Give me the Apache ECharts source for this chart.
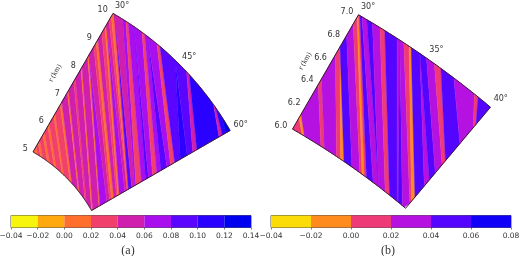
<!DOCTYPE html>
<html><head><meta charset="utf-8">
<style>html,body{margin:0;padding:0;background:#fff}#c{width:520px;height:256px}</style>
<script src="https://cdn.jsdelivr.net/npm/echarts@6/dist/echarts.min.js"></script>
</head><body><div id="c"></div>
<script>
// Panel (a): r 5–10 km, angle 30–60°. Panel (b): r 6–7 km, angle 30–40°.
const rangeA = [5, 10, 30, 60];
const rangeB = [6, 7, 30, 40];
// Bands between successive cuts. "top" runs along the 30° edge (r) then along the outer arc (r max + degrees past 30).
// "bot" runs along the inner arc (degrees) then along the far edge (angle max + km past r min).
const topA = [5,5.2,5.32,5.42,5.62,5.72,5.93,6.02,6.3,6.38,6.7,6.8,7.15,7.22,7.55,7.65,8,8.06,8.42,8.5,8.5,8.8,8.95,9.06,9.3,9.5,9.6,9.6,9.75,9.9,10.05,10.35,10.35,12,12.7,13.2,14.5,14.5,16.2,16.8,17.5,17.5,19.6,20.3,24,24,26.9,27.6,34.5,35.2,37,40];
const botA = [30,32,33.2,34.2,36.2,37.2,39.3,40.2,43,43.8,47,48,51.5,52.2,55.5,56.5,60,60.04,60.27,60.3,60.55,60.65,60.72,60.8,60.9,60.95,61,61.2,61.28,61.3,61.31,61.33,61.45,61.55,61.6,61.8,61.95,62.05,62.2,62.35,62.5,62.72,62.85,63,63.2,63.45,63.65,63.8,64.6,64.72,64.85,65];
const valA = [.01,.03,.01,.03,.01,.03,.01,.03,.01,.03,.01,.05,.01,.05,.03,.05,.01,.05,.01,.07,.05,.03,.01,.05,.03,.01,.07,.05,.03,.01,.03,.09,.05,.07,.03,.07,.09,.07,.03,.07,.09,.07,.03,.09,.11,.09,.05,.11,.05,.11,.13];
const topB = [6,6.1,6.13,6.39,6.44,6.65,6.72,6.72,6.82,6.92,6.98,7,7.1,7.25,7.6,8,8.55,8.9,9.8,10,10,10.3,10.7,10.85,11.5,11.5,12,12.6,13.1,14.1,15.7,16,17];
const botB = [30,30.8,31,32.4,32.7,33.75,34.1,34.4,35.1,35.8,36,36.2,36.4,37,37.5,37.5,38.1,38.5,39.2,39.3,39.7,40.05,40.07,40.11,40.22,40.28,40.35,40.43,40.47,40.64,40.8,40.83,41];
const valB = [.01,-.01,.03,.01,.03,.01,-.01,.05,.03,.01,-.01,.01,.05,.03,.05,.03,.01,.05,.03,.05,.03,.01,-.01,.05,.03,.05,.03,.01,.05,.03,.01,.05];
// Colour bar levels and colours
const levelsA = [-.04,-.02,0,.02,.04,.06,.08,.10,.12,.14];
const levelsB = [-.04,-.02,0,.02,.04,.06,.08];
const coloursA = ['#f7f50e','#ffa90f','#ff6e2d','#f2406c','#d01fae','#a90fee','#5a05ff','#2a00ff','#0000f0'];
const coloursB = ['#fcdc08','#ff8a1e','#ef3a78','#b512e2','#5405ff','#1000f8'];

const FONT = '"DejaVu Sans"', TXT = '#333', EDGE = '#3a1530';
function pickers(range){
  const [r0,r1,a0,a1] = range;
  return {
    top: s => s <= r1 ? [s,a0] : [r1,a0+(s-r1)],
    bot: t => t <= a1 ? [r0,t] : [r0+(t-a1),a1]
  };
}
function walk(fn, from, to, api, out){
  const n = Math.max(1, Math.ceil(Math.abs(to-from)*4));
  for(let i=0;i<=n;i++) out.push(api.coord(fn(from+(to-from)*i/n)));
}
function colourOf(v, levels, colours){
  let i = Math.floor((v-levels[0])/(levels[1]-levels[0])+1e-6);
  return colours[Math.max(0,Math.min(colours.length-1,i))];
}
function bandSeries(idx, range, top, bot, val, levels, colours){
  const p = pickers(range);
  const data = val.map((v,i)=>[v, top[i], bot[i], top[i+1], bot[i+1]]);
  return {type:'custom',coordinateSystem:'polar',polarIndex:idx,silent:true,z:2,clip:false,
    encode:{radius:1,angle:2},data,
    renderItem(_, api){
      const pts=[];
      walk(p.top, api.value(1), api.value(3), api, pts);
      walk(p.bot, api.value(4), api.value(2), api, pts);
      const c=colourOf(api.value(0),levels,colours);
      return {type:'polygon',shape:{points:pts},style:{fill:c,stroke:c,lineWidth:.4}};
    }};
}
function frameSeries(idx, range){
  const [r0,r1,a0,a1]=range, p=pickers(range);
  const sEnd=r1+(a1-a0), tEnd=a1+(r1-r0);
  return {type:'custom',coordinateSystem:'polar',polarIndex:idx,silent:true,z:5,clip:false,
    encode:{radius:0,angle:1},data:[[r0,a0]],
    renderItem(_, api){
      const pts=[];
      walk(p.top, r0, sEnd, api, pts);
      walk(p.bot, tEnd, a0, api, pts);
      return {type:'polygon',shape:{points:pts},style:{fill:'none',stroke:EDGE,lineWidth:1}};
    }};
}
function barSeries(idx, levels, colours){
  return {type:'custom',coordinateSystem:'cartesian2d',xAxisIndex:idx,yAxisIndex:idx,silent:true,clip:false,
    encode:{x:[0,1]},data:colours.map((c,i)=>[levels[i],levels[i+1]]),
    renderItem(params, api){
      const a=api.coord([api.value(0),0]), b=api.coord([api.value(1),1]);
      return {type:'rect',shape:{x:a[0],y:b[1],width:b[0]-a[0],height:a[1]-b[1]},style:{fill:colours[params.dataIndex]}};
    }};
}
const radialAxis=(idx,range,interval,dec)=>({polarIndex:idx,type:'value',min:range[0],max:range[1],interval,
  axisLine:{show:false},axisTick:{show:false},splitLine:{show:false},
  axisLabel:{show:true,margin:6,padding:[0,0,4,0],color:TXT,fontFamily:FONT,fontSize:8,formatter:v=>v.toFixed(dec),hideOverlap:false}});
const angAxis=(idx,range,interval,margin,shift)=>({polarIndex:idx,type:'value',min:range[2],max:range[3],startAngle:60,endAngle:90-range[3],clockwise:true,interval,
  axisLine:{show:false},axisTick:{show:false},splitLine:{show:false},
  axisLabel:{show:true,margin,padding:[0,shift,0,0],color:TXT,fontFamily:FONT,fontSize:8,formatter:'{value}°'}});
const barAxis=(idx,levels,name)=>({gridIndex:idx,type:'value',min:levels[0],max:levels[levels.length-1],interval:.02,
  axisLine:{show:false},splitLine:{show:false},
  axisTick:{show:true,length:2,lineStyle:{color:'#555',width:.8}},
  axisLabel:{margin:5,color:TXT,fontFamily:FONT,fontSize:7.5,showMinLabel:true,showMaxLabel:true,hideOverlap:false,
    formatter:v=>(v<0?'\u2212':'')+Math.abs(v).toFixed(2)},
  name,nameLocation:'middle',nameGap:17,nameTextStyle:{color:'#333',fontFamily:'"Liberation Serif"',fontSize:12,padding:[0,6,0,0]}});
const rName=(x,y)=>({type:'text',x,y,rotation:Math.PI/3,silent:true,
  style:{text:'r (km)',fill:TXT,font:'7.5px "Liberation Serif"',align:'center',verticalAlign:'middle'}});

const chart=echarts.init(document.getElementById('c'),null,{renderer:'canvas'});
chart.setOption({
  animation:false,backgroundColor:'#fff',
  polar:[{center:[-47,290.5],radius:[160,320]},{center:[-103.5,815],radius:[792,924]}],
  radiusAxis:[radialAxis(0,rangeA,1,0),radialAxis(1,rangeB,.2,1)],
  angleAxis:[angAxis(0,rangeA,15,4,6),angAxis(1,rangeB,5,5,8)],
  grid:[{left:11,width:240,top:215.5,height:12,outerBoundsMode:'none',show:true,borderColor:'#555',borderWidth:1,backgroundColor:'transparent'},
        {left:271,width:240,top:215.5,height:12,outerBoundsMode:'none',show:true,borderColor:'#555',borderWidth:1,backgroundColor:'transparent'}],
  xAxis:[barAxis(0,levelsA,'(a)'),barAxis(1,levelsB,'(b)')],
  yAxis:[{gridIndex:0,type:'value',min:0,max:1,show:false},{gridIndex:1,type:'value',min:0,max:1,show:false}],
  graphic:[rName(55,73),rName(305,61)],
  series:[
    bandSeries(0,rangeA,topA,botA,valA,levelsA,coloursA),frameSeries(0,rangeA),
    bandSeries(1,rangeB,topB,botB,valB,levelsB,coloursB),frameSeries(1,rangeB),
    barSeries(0,levelsA,coloursA),barSeries(1,levelsB,coloursB)
  ]
});
</script></body></html>
